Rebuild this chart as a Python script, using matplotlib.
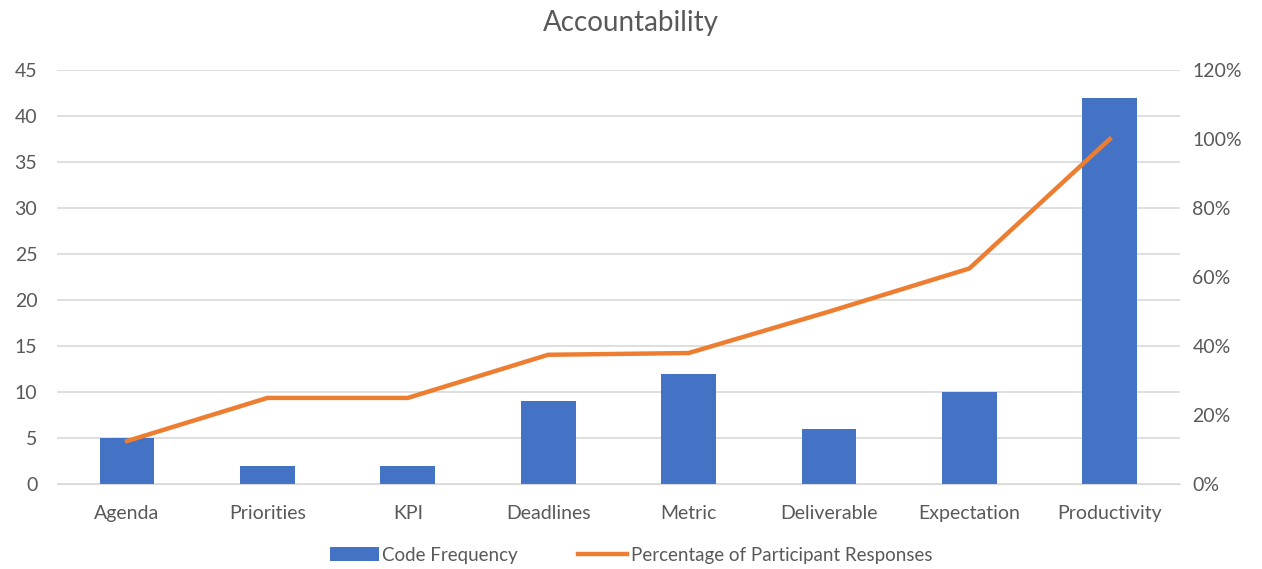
import matplotlib.pyplot as plt
from matplotlib.ticker import PercentFormatter

categories = ["Agenda", "Priorities", "KPI", "Deadlines", "Metric",
              "Deliverable", "Expectation", "Productivity"]
code_frequency = [5, 2, 2, 9, 12, 6, 10, 42]
pct_responses = [12.5, 25, 25, 37.5, 38, 50, 62.5, 100]

BLUE = "#4472C4"
ORANGE = "#ED7D31"
GREY = "#595959"
GRID = "#D9D9D9"

plt.rcParams["font.family"] = ["Lato", "DejaVu Sans"]

fig = plt.figure(figsize=(12.62, 5.69), dpi=100)
ax = fig.add_axes([0.045, 0.149, 0.89, 0.728])
ax2 = ax.twinx()

x = range(len(categories))
bars = ax.bar(x, code_frequency, width=0.39, color=BLUE, zorder=2,
              label="Code Frequency")
line, = ax2.plot(x, pct_responses, color=ORANGE, lw=3.2,
                 solid_joinstyle="miter", label="Percentage of Participant Responses")

ax.set_xlim(-0.5, len(categories) - 0.5)
ax.set_ylim(0, 45)
ax.set_yticks(range(0, 46, 5))
ax2.set_ylim(0, 120)
ax2.set_yticks(range(0, 121, 20))
ax2.yaxis.set_major_formatter(PercentFormatter(decimals=0))

ax.set_xticks(list(x))
ax.set_xticklabels(categories)
ax.grid(axis="y", color=GRID, lw=1.2, zorder=0)
ax.set_axisbelow(True)

for a in (ax, ax2):
    for s in a.spines.values():
        s.set_visible(False)
    a.tick_params(length=0, labelsize=14, colors=GREY)
ax.spines["bottom"].set_visible(True)
ax.spines["bottom"].set_color(GRID)
ax.tick_params(axis="x", pad=15)
ax.tick_params(axis="y", pad=14)
ax2.tick_params(axis="y", pad=9)

fig.suptitle("Accountability", y=0.982, fontsize=20, color=GREY)

fig.legend([bars, line], [bars.get_label(), line.get_label()],
           loc="lower center", bbox_to_anchor=(0.5, -0.02), ncol=2,
           frameon=False, fontsize=13.5, labelcolor=GREY, handlelength=2.6,
           handletextpad=0.2, columnspacing=3.2)

fig.savefig("out.png", dpi=100)
